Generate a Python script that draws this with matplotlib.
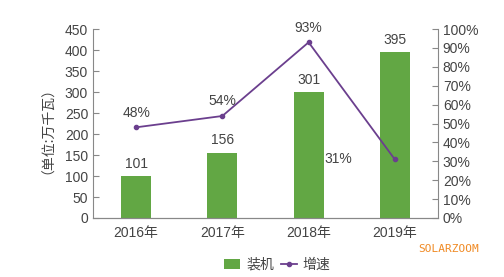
import matplotlib
matplotlib.use("Agg")
import matplotlib.pyplot as plt
import numpy as np

plt.rcParams['font.family'] = ['Liberation Sans', 'Noto Sans CJK SC', 'DejaVu Sans']

# 数据
years = ['2016年', '2017年', '2018年', '2019年']
installed = [101, 156, 301, 395]      # 装机（万千瓦）
growth = [48, 54, 93, 31]              # 增速（%）

BAR_COLOR = '#62a744'
LINE_COLOR = '#6b3f8e'
TEXT_COLOR = '#444444'
AXIS_COLOR = '#888888'
FS = 10

fig = plt.figure(figsize=(5.04, 2.77), dpi=100)
ax = fig.add_axes([0.1845, 0.213, 0.6845, 0.682])
x = np.arange(len(years))

bars = ax.bar(x, installed, width=0.35, color=BAR_COLOR, label='装机', zorder=2)
for xi, v in zip(x, installed):
    ax.text(xi, v + 12, str(v), ha='center', va='bottom', fontsize=FS, color=TEXT_COLOR)

ax.set_xlim(-0.5, 3.5)
ax.set_ylim(0, 450)
ax.set_yticks(np.arange(0, 451, 50))
ax.set_xticks(x)
ax.set_xticklabels(years)
ax.set_ylabel('（单位:万千瓦）', fontsize=FS, color=TEXT_COLOR, labelpad=12,
              family=['Noto Sans CJK SC'])

ax2 = ax.twinx()
line, = ax2.plot(x, growth, color=LINE_COLOR, lw=1.3, marker='o', ms=3, label='增速', zorder=3)
ax2.set_ylim(0, 100)
ax2.set_yticks(np.arange(0, 101, 10))
ax2.set_yticklabels([f'{v}%' for v in range(0, 101, 10)])
for xi, v in zip(x, growth):
    if xi == 3:
        ax2.text(xi - 0.5, v, f'{v}%', ha='right', va='center', fontsize=FS, color=TEXT_COLOR)
    else:
        ax2.text(xi, v + 4, f'{v}%', ha='center', va='bottom', fontsize=FS, color=TEXT_COLOR)

for a in (ax, ax2):
    a.spines['top'].set_visible(False)
    for s in ('left', 'right', 'bottom'):
        a.spines[s].set_color(AXIS_COLOR)
        a.spines[s].set_linewidth(0.8)
    a.tick_params(direction='in', length=4, color=AXIS_COLOR, labelcolor=TEXT_COLOR, labelsize=FS)
ax.spines['right'].set_visible(False)
ax2.spines['left'].set_visible(False)
ax.tick_params(axis='x', length=0, pad=6)

fig.legend([bars, line], ['装机', '增速'], loc='center', bbox_to_anchor=(0.55, 0.045),
           ncol=2, frameon=False, fontsize=FS, handlelength=1.2, handletextpad=0.4,
           columnspacing=0.5, labelcolor=TEXT_COLOR)

fig.text(0.95, 0.1, 'SOLARZOOM', ha='right', va='center', fontsize=8,
         color='#f08a24', family='DejaVu Sans Mono')

fig.savefig('out.png', dpi=100)
